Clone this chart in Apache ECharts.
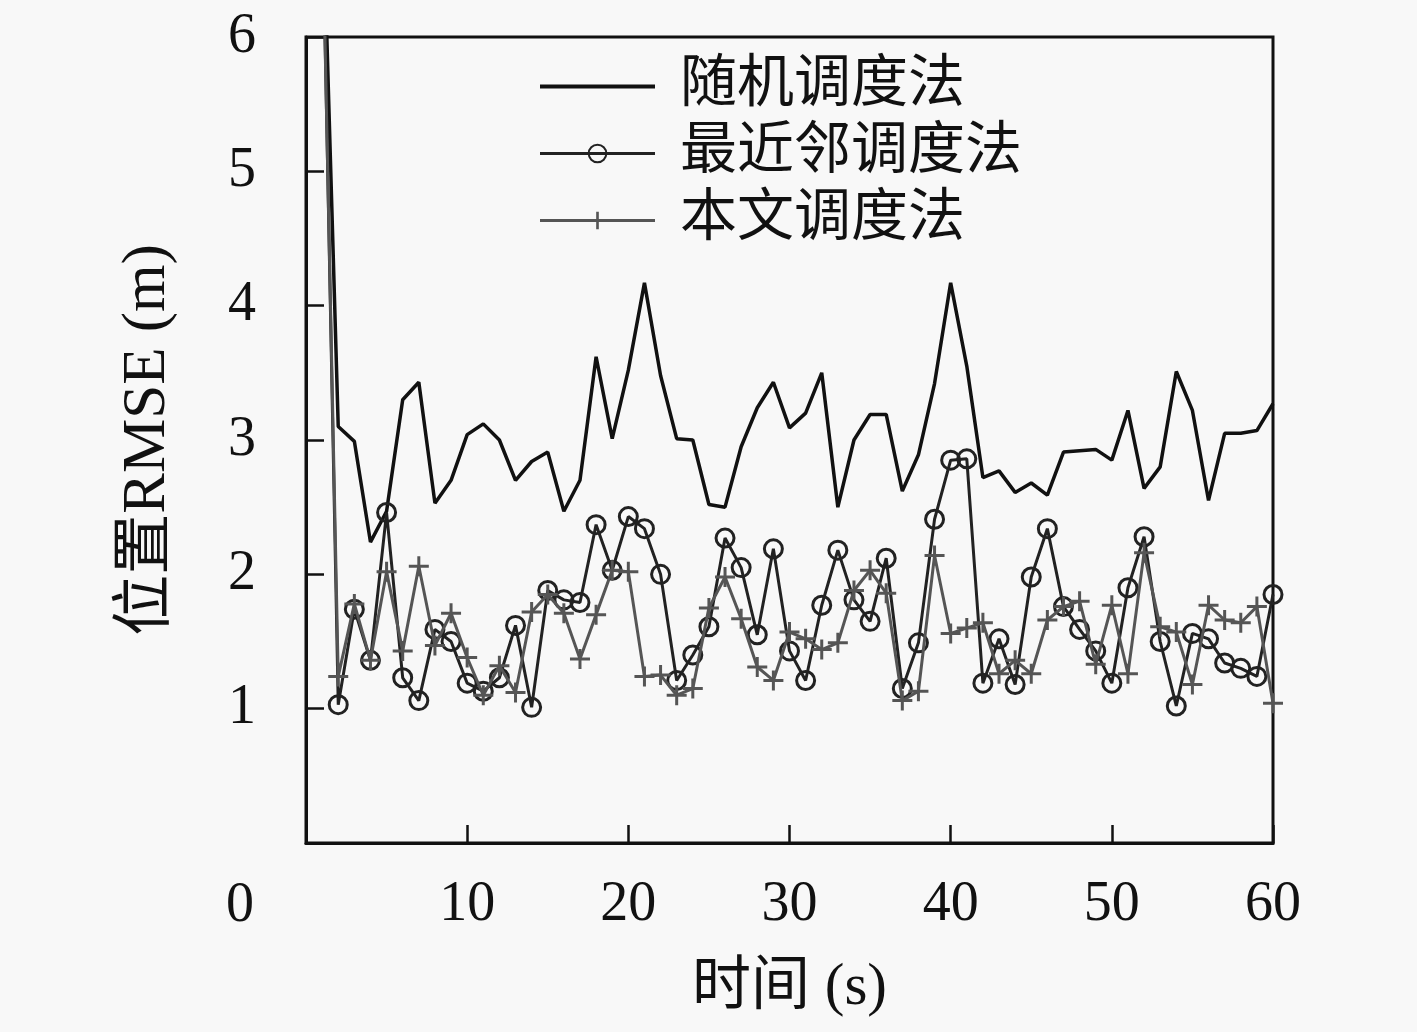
<!DOCTYPE html>
<html>
<head>
<meta charset="utf-8">
<script src="https://cdn.jsdelivr.net/npm/echarts@6/dist/echarts.min.js"></script>
<style>
html,body{margin:0;padding:0;background:#f8f8f8;}
#c{width:1417px;height:1032px;}
</style>
</head>
<body>
<div id="c"></div>
<script>
const times = [1,2,3,4,5,6,7,8,9,10,11,12,13,14,15,16,17,18,19,20,21,22,23,24,25,26,27,28,29,30,31,32,33,34,35,36,37,38,39,40,41,42,43,44,45,46,47,48,49,50,51,52,53,54,55,56,57,58,59,60];
const randomRMSE = [7.2,3.10,2.99,2.24,2.47,3.30,3.43,2.53,2.70,3.04,3.12,3.00,2.70,2.84,2.91,2.47,2.70,3.62,3.01,3.52,4.17,3.48,3.01,3.00,2.52,2.50,2.95,3.24,3.43,3.09,3.20,3.50,2.50,3.00,3.19,3.19,2.62,2.89,3.42,4.17,3.55,2.72,2.77,2.61,2.68,2.59,2.91,2.92,2.93,2.85,3.22,2.64,2.80,3.51,3.22,2.55,3.05,3.05,3.07,3.27];
const nearestRMSE = [7.1,1.03,1.74,1.36,2.46,1.23,1.06,1.59,1.50,1.19,1.13,1.23,1.62,1.01,1.88,1.81,1.79,2.37,2.03,2.43,2.34,2.00,1.21,1.40,1.61,2.27,2.05,1.55,2.19,1.43,1.21,1.77,2.18,1.81,1.65,2.12,1.15,1.49,2.41,2.85,2.86,1.19,1.52,1.18,1.98,2.34,1.76,1.59,1.43,1.19,1.90,2.28,1.50,1.02,1.56,1.52,1.34,1.30,1.24,1.85];
const proposedRMSE = [7.0,1.24,1.78,1.36,2.02,1.43,2.06,1.47,1.71,1.38,1.10,1.32,1.12,1.72,1.85,1.71,1.37,1.70,2.03,2.02,1.24,1.25,1.10,1.15,1.75,1.98,1.67,1.31,1.21,1.57,1.52,1.44,1.49,1.88,2.03,1.86,1.06,1.13,2.14,1.56,1.60,1.64,1.26,1.36,1.26,1.66,1.76,1.80,1.33,1.77,1.26,2.16,1.61,1.57,1.18,1.77,1.66,1.64,1.76,1.04];
const seriesNames = ['随机调度法','最近邻调度法','本文调度法'];
const xName = '时间 (s)';
const yName = '位置RMSE (m)';

const FONT = '"Liberation Serif", "Noto Sans CJK SC", serif';
const pair = arr => times.map((t, i) => [t, arr[i]]);
const plusPath = 'path://M8.5,0h3v20h-3zM0,8.5h20v3h-20z';

const chart = echarts.init(document.getElementById('c'));
chart.setOption({
  backgroundColor: '#f8f8f8',
  animation: false,
  grid: {left: 306, top: 37, right: 144, bottom: 189, show: true, borderColor: '#111', borderWidth: 3, backgroundColor: 'transparent'},
  legend: {
    orient: 'vertical', left: 538, top: 53, padding: 0, itemGap: 0,
    itemWidth: 115, itemHeight: 22,
    textStyle: {fontFamily: FONT, fontSize: 57, lineHeight: 67, color: '#111', padding: [0,0,0,20]},
    data: [
      {name: seriesNames[0], itemStyle: {opacity: 0}, lineStyle: {width: 4, color: '#111'}},
      {name: seriesNames[1], lineStyle: {width: 3, color: '#222'}},
      {name: seriesNames[2], lineStyle: {width: 3, color: '#555'}}
    ]
  },
  xAxis: {
    type: 'value', min: 0, max: 60, interval: 10,
    name: xName, nameLocation: 'middle', nameGap: 116,
    nameTextStyle: {fontFamily: FONT, fontSize: 59, color: '#111'},
    axisLine: {show: true, lineStyle: {color: '#111', width: 3}},
    axisTick: {show: true, inside: true, length: 18, lineStyle: {color: '#111', width: 2.5}},
    axisLabel: {fontFamily: FONT, fontSize: 56, color: '#111', margin: 34, lineHeight: 56,
      formatter: v => v === 0 ? '' : String(v)},
    splitLine: {show: false}
  },
  yAxis: {
    type: 'value', min: 0, max: 6, interval: 1,
    name: yName, nameLocation: 'middle', nameGap: 128, nameRotate: 90,
    nameTextStyle: {fontFamily: FONT, fontSize: 61, color: '#111'},
    axisLine: {show: true, lineStyle: {color: '#111', width: 3}},
    axisTick: {show: true, inside: true, length: 18, lineStyle: {color: '#111', width: 2.5}},
    axisLabel: {fontFamily: FONT, fontSize: 56, color: '#111', margin: 50,
      formatter: v => v === 0 ? '' : String(v)},
    splitLine: {show: false}
  },
  graphic: [{
    type: 'text', left: 226, top: 878,
    style: {text: '0', font: '56px "Liberation Serif", serif', fill: '#111'}
  }],
  series: [
    {
      name: seriesNames[0], type: 'line', data: pair(randomRMSE), symbol: 'none',
      lineStyle: {color: '#111', width: 3.5}, itemStyle: {color: '#111'}, z: 3
    },
    {
      name: seriesNames[1], type: 'line', data: pair(nearestRMSE),
      symbol: 'circle', symbolSize: 18, showAllSymbol: true,
      lineStyle: {color: '#222', width: 3},
      itemStyle: {color: 'rgba(0,0,0,0)', borderColor: '#222', borderWidth: 3}, z: 4
    },
    {
      name: seriesNames[2], type: 'line', data: pair(proposedRMSE),
      symbol: plusPath, symbolSize: 20, showAllSymbol: true,
      lineStyle: {color: '#555', width: 3},
      itemStyle: {color: '#555'}, z: 5
    }
  ]
});
</script>
</body>
</html>
